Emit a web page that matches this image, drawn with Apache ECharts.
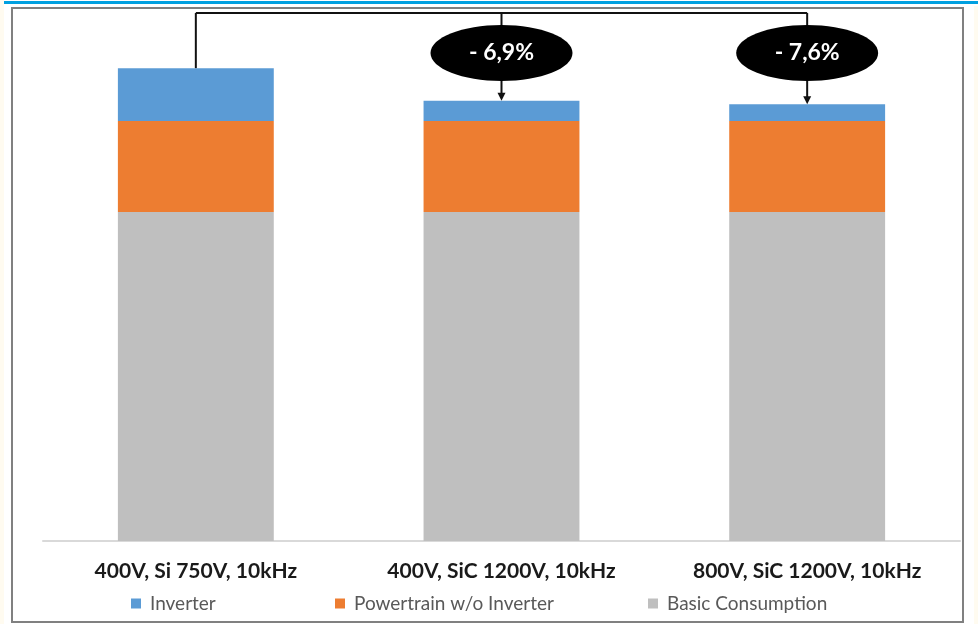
<!DOCTYPE html>
<html>
<head>
<meta charset="utf-8">
<script src="https://cdn.jsdelivr.net/npm/echarts@6/dist/echarts.min.js"></script>
<style>
  html, body { margin: 0; padding: 0; background: #ffffff; }
  #chart { width: 978px; height: 624px; }
</style>
</head>
<body>
<div id="chart"></div>
<script>
// Energy consumption per inverter configuration (stacked)
const categories = ['400V, Si 750V, 10kHz', '400V, SiC 1200V, 10kHz', '800V, SiC 1200V, 10kHz'];
const basicConsumption = [9.4, 9.4, 9.4];
const powertrainWoInverter = [2.6, 2.6, 2.6];
const inverter = [1.51, 0.58, 0.48];
const seriesNames = ['Inverter', 'Powertrain w/o Inverter', 'Basic Consumption'];
const seriesColors = ['#5b9bd5', '#ed7d31', '#bfbfbf'];

const FONT = 'Lato, "Open Sans", sans-serif';

const chart = echarts.init(document.getElementById('chart'), null, { renderer: 'canvas' });

function legendFor(name, left) {
  return {
    data: [name], left: left, top: 594, padding: 0,
    itemWidth: 10, itemHeight: 10, itemGap: 0, icon: 'rect',
    textStyle: { color: '#595959', fontSize: 19, fontFamily: FONT, padding: [0, 0, 0, 4] },
    selectedMode: false
  };
}

chart.setOption({
  animation: false,
  backgroundColor: '#ffffff',
  color: seriesColors,
  grid: { left: 43, right: 18, top: 51, bottom: 83 },
  legend: [
    legendFor(seriesNames[0], 131),
    legendFor(seriesNames[1], 335),
    legendFor(seriesNames[2], 648)
  ],
  xAxis: {
    type: 'category',
    data: categories,
    axisLine: { lineStyle: { color: '#d9d9d9', width: 2 } },
    axisTick: { show: false },
    axisLabel: {
      interval: 0, hideOverlap: false,
      color: '#1a1a1a', fontSize: 21, fontWeight: 'bold', fontFamily: FONT, margin: 20
    }
  },
  yAxis: {
    type: 'value', min: 0, max: 14, show: false,
    splitLine: { show: false }
  },
  series: [
    { name: seriesNames[2], type: 'bar', stack: 'total', barWidth: '51%', data: basicConsumption, itemStyle: { color: seriesColors[2] } },
    { name: seriesNames[1], type: 'bar', stack: 'total', data: powertrainWoInverter, itemStyle: { color: seriesColors[1] } },
    { name: seriesNames[0], type: 'bar', stack: 'total', data: inverter, itemStyle: { color: seriesColors[0] } }
  ]
});

// Totals and relative savings vs. the first configuration
const totals = categories.map((_, i) => basicConsumption[i] + powertrainWoInverter[i] + inverter[i]);
function pctLabel(i) {
  const p = (totals[i] - totals[0]) / totals[0] * 100;
  return '- ' + Math.abs(p).toFixed(1).replace('.', ',') + '%';
}

const tops = totals.map((t, i) => chart.convertToPixel({ seriesIndex: 0 }, [i, t]));
const lineY = 13;
const ellCy = 53, ellRx = 71, ellRy = 28;
const stroke = { stroke: '#111111', lineWidth: 2 };

const graphics = [
  // page frame and top rule
  { type: 'rect', shape: { x: 12, y: 8, width: 951, height: 614 }, style: { fill: null, stroke: '#808080', lineWidth: 2 }, z: 1 },
  { type: 'rect', shape: { x: 4, y: 1, width: 974, height: 3 }, style: { fill: '#00a0e0' }, z: 1 },
  { type: 'rect', shape: { x: 0, y: 0, width: 4, height: 624 }, style: { fill: '#fffbf0' }, z: 1 },
  { type: 'rect', shape: { x: 974, y: 6, width: 4, height: 618 }, style: { fill: '#fffbf0' }, z: 1 },
  // connector bracket
  { type: 'line', shape: { x1: tops[0][0], y1: lineY, x2: tops[tops.length - 1][0], y2: lineY }, style: stroke, z: 10 },
  { type: 'line', shape: { x1: tops[0][0], y1: lineY, x2: tops[0][0], y2: tops[0][1] }, style: stroke, z: 10 }
];

for (let i = 1; i < tops.length; i++) {
  const x = tops[i][0], yTop = tops[i][1];
  graphics.push(
    { type: 'line', shape: { x1: x, y1: lineY, x2: x, y2: ellCy - ellRy }, style: stroke, z: 10 },
    { type: 'line', shape: { x1: x, y1: ellCy + ellRy, x2: x, y2: yTop - 6 }, style: stroke, z: 10 },
    { type: 'polygon', shape: { points: [[x - 4, yTop - 8], [x + 4, yTop - 8], [x, yTop]] }, style: { fill: '#111111' }, z: 10 },
    { type: 'ellipse', shape: { cx: x, cy: ellCy, rx: ellRx, ry: ellRy }, style: { fill: '#000000' }, z: 11 },
    { type: 'text', x: x, y: ellCy, style: { text: pctLabel(i), fill: '#ffffff', font: 'bold 23px ' + FONT, align: 'center', verticalAlign: 'middle' }, z: 12 }
  );
}

chart.setOption({ graphic: graphics });
</script>
</body>
</html>
